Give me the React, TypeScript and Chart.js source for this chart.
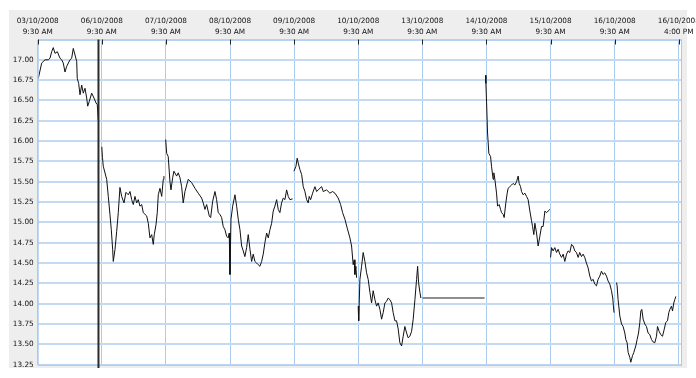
import React, { useEffect, useRef } from 'react';
import { Chart, registerables } from 'chart.js';

Chart.register(...registerables);

const W = 696;
const H = 378;

// x axis: trading-day units (0 = 03/10/2008 9:30 AM)
const tickDays = [0, 1, 2, 3, 4, 5, 6, 7, 8, 9, 10];
const dateLabels = ['03/10/2008', '06/10/2008', '07/10/2008', '08/10/2008', '09/10/2008', '10/10/2008', '13/10/2008', '14/10/2008', '15/10/2008', '16/10/2008', '16/10/2008'];
const timeLabels = ['9:30 AM', '9:30 AM', '9:30 AM', '9:30 AM', '9:30 AM', '9:30 AM', '9:30 AM', '9:30 AM', '9:30 AM', '9:30 AM', '4:00 PM'];
const priceTicks = [13.25, 13.5, 13.75, 14.0, 14.25, 14.5, 14.75, 15.0, 15.25, 15.5, 15.75, 16.0, 16.25, 16.5, 16.75, 17.0, 17.25];

const oct03Times = [0.009, 0.062, 0.114, 0.165, 0.192, 0.218, 0.243, 0.270, 0.306, 0.348, 0.374, 0.399, 0.426, 0.452, 0.504, 0.530, 0.555, 0.582, 0.608, 0.617, 0.639, 0.660, 0.686, 0.711, 0.738, 0.764, 0.780, 0.805, 0.842, 0.878, 0.909, 0.929, 0.945];
const oct03Prices = [16.77, 16.96, 17.0, 17.0, 17.02, 17.10, 17.15, 17.08, 17.10, 17.02, 17.0, 16.96, 16.85, 16.92, 17.0, 17.02, 17.14, 17.06, 16.98, 16.77, 16.71, 16.57, 16.69, 16.59, 16.65, 16.53, 16.43, 16.49, 16.59, 16.53, 16.47, 16.45, 16.26];

const oct06Times = [1.000, 1.010, 1.023, 1.076, 1.101, 1.127, 1.148, 1.169, 1.179, 1.206, 1.232, 1.257, 1.283, 1.310, 1.346, 1.377, 1.413, 1.440, 1.466, 1.491, 1.517, 1.544, 1.569, 1.595, 1.622, 1.647, 1.700, 1.725, 1.751, 1.778, 1.803, 1.818, 1.845, 1.865, 1.881, 1.907, 1.934, 1.959, 1.969];
const oct06Prices = [15.93, 15.80, 15.69, 15.53, 15.32, 15.10, 14.91, 14.67, 14.52, 14.67, 14.89, 15.12, 15.43, 15.32, 15.24, 15.37, 15.34, 15.38, 15.28, 15.22, 15.32, 15.24, 15.28, 15.20, 15.22, 15.12, 15.08, 14.99, 14.81, 14.85, 14.73, 14.85, 14.97, 15.12, 15.34, 15.42, 15.32, 15.53, 15.57];

const oct07Times = [1.996, 2.012, 2.036, 2.063, 2.079, 2.105, 2.125, 2.167, 2.192, 2.219, 2.245, 2.270, 2.297, 2.348, 2.401, 2.453, 2.504, 2.557, 2.582, 2.609, 2.635, 2.676, 2.698, 2.729, 2.765, 2.791, 2.816, 2.842, 2.869, 2.894, 2.921, 2.947, 2.972, 2.988,
  2.999, 3.015, 3.041, 3.077, 3.103, 3.128, 3.155, 3.181, 3.206, 3.232, 3.259, 3.284, 3.311, 3.337, 3.362, 3.388, 3.415, 3.440, 3.466, 3.493, 3.518, 3.544, 3.571, 3.596, 3.623, 3.649, 3.674, 3.700, 3.727, 3.752, 3.778, 3.804, 3.830, 3.856, 3.883, 3.908, 3.934, 3.976];
const oct07Prices = [16.02, 15.85, 15.81, 15.50, 15.40, 15.55, 15.63, 15.57, 15.61, 15.55, 15.44, 15.24, 15.38, 15.53, 15.49, 15.42, 15.36, 15.30, 15.24, 15.16, 15.22, 15.08, 15.06, 15.26, 15.38, 15.28, 15.12, 15.10, 15.06, 14.95, 14.91, 14.83, 14.81, 14.87,
  14.36, 15.04, 15.20, 15.34, 15.20, 15.04, 14.91, 14.71, 14.65, 14.58, 14.69, 14.85, 14.67, 14.52, 14.61, 14.52, 14.50, 14.48, 14.46, 14.52, 14.61, 14.75, 14.87, 14.81, 14.91, 14.99, 15.14, 15.20, 15.28, 15.16, 15.12, 15.24, 15.30, 15.28, 15.40, 15.32, 15.28, 15.29];

const oct09Times = [3.997, 4.028, 4.048, 4.064, 4.090, 4.117, 4.142, 4.168, 4.195, 4.220, 4.235, 4.257, 4.288, 4.324, 4.351, 4.375, 4.429, 4.454, 4.506, 4.558, 4.600, 4.636, 4.687, 4.725, 4.756, 4.792, 4.828, 4.870, 4.896, 4.921, 4.937, 4.948, 4.963, 4.974];
const oct09Prices = [15.63, 15.69, 15.79, 15.73, 15.65, 15.59, 15.44, 15.38, 15.28, 15.24, 15.32, 15.28, 15.36, 15.44, 15.38, 15.40, 15.44, 15.38, 15.40, 15.36, 15.38, 15.36, 15.30, 15.22, 15.12, 15.04, 14.93, 14.81, 14.71, 14.48, 14.54, 14.36, 14.46, 14.32];

const oct10Times = [4.999, 5.007, 5.026, 5.052, 5.077, 5.104, 5.130, 5.155, 5.182, 5.208, 5.233, 5.260, 5.286, 5.311, 5.338, 5.364, 5.389, 5.416, 5.442, 5.467, 5.494, 5.520, 5.545, 5.572, 5.598, 5.623, 5.649, 5.676, 5.701, 5.727, 5.754, 5.779, 5.805, 5.832, 5.857, 5.884, 5.910, 5.926, 5.941, 5.962, 5.977];
const oct10Prices = [13.97, 13.79, 14.30, 14.46, 14.63, 14.52, 14.38, 14.30, 14.14, 14.01, 14.16, 14.05, 13.97, 14.01, 13.93, 13.81, 13.89, 14.01, 14.03, 14.07, 14.05, 14.01, 13.89, 13.79, 13.79, 13.69, 13.52, 13.48, 13.60, 13.72, 13.64, 13.58, 13.60, 13.66, 13.81, 14.05, 14.30, 14.46, 14.26, 14.14, 14.07];

const oct13Times = [6.0, 6.97];
const oct13Prices = [14.07, 14.07];

const oct14Times = [6.986, 6.991, 7.002, 7.017, 7.037, 7.064, 7.079, 7.104, 7.115, 7.131, 7.157, 7.173, 7.198, 7.220, 7.235, 7.260, 7.276, 7.302, 7.323, 7.338, 7.365, 7.391, 7.416, 7.443, 7.469, 7.494, 7.510, 7.532, 7.547, 7.572, 7.599, 7.625, 7.650, 7.677, 7.703, 7.719, 7.739, 7.755, 7.781, 7.806, 7.833, 7.859, 7.884, 7.911, 7.937, 7.962, 7.989];
const oct14Prices = [16.81, 16.71, 16.47, 16.10, 15.85, 15.81, 15.69, 15.53, 15.61, 15.53, 15.36, 15.20, 15.22, 15.16, 15.12, 15.10, 15.06, 15.24, 15.36, 15.42, 15.44, 15.46, 15.48, 15.46, 15.50, 15.57, 15.48, 15.44, 15.38, 15.34, 15.36, 15.32, 15.28, 15.14, 15.02, 14.95, 14.85, 14.99, 14.87, 14.71, 14.83, 14.95, 14.95, 15.14, 15.12, 15.14, 15.16];

const oct15Times = [8.0, 8.015, 8.040, 8.066, 8.093, 8.118, 8.144, 8.171, 8.196, 8.222, 8.249, 8.274, 8.300, 8.327, 8.352, 8.378, 8.404, 8.430, 8.455, 8.482, 8.507, 8.533, 8.559, 8.586, 8.612, 8.638, 8.664, 8.690, 8.716, 8.741, 8.768, 8.794, 8.819, 8.845, 8.872, 8.897, 8.924, 8.95, 8.97, 8.98, 8.99];
const oct15Prices = [14.57, 14.69, 14.65, 14.69, 14.63, 14.67, 14.61, 14.57, 14.61, 14.52, 14.61, 14.65, 14.63, 14.73, 14.71, 14.65, 14.63, 14.57, 14.63, 14.58, 14.61, 14.57, 14.50, 14.44, 14.34, 14.28, 14.30, 14.24, 14.22, 14.30, 14.34, 14.40, 14.36, 14.38, 14.34, 14.28, 14.24, 14.16, 14.07, 13.97, 13.89];

const oct16Times = [9.029, 9.038, 9.053, 9.080, 9.107, 9.131, 9.158, 9.174, 9.194, 9.210, 9.236, 9.251, 9.278, 9.298, 9.329, 9.350, 9.372, 9.392, 9.408, 9.423, 9.444, 9.470, 9.496, 9.521, 9.548, 9.574, 9.599, 9.626, 9.652, 9.668, 9.693, 9.719, 9.746, 9.771, 9.797, 9.824, 9.844, 9.860, 9.886, 9.902, 9.922, 9.938, 9.953];
const oct16Prices = [14.26, 14.22, 14.05, 13.85, 13.75, 13.72, 13.64, 13.56, 13.52, 13.40, 13.34, 13.28, 13.36, 13.40, 13.48, 13.56, 13.64, 13.77, 13.91, 13.93, 13.81, 13.75, 13.72, 13.64, 13.62, 13.56, 13.53, 13.52, 13.60, 13.72, 13.66, 13.62, 13.60, 13.68, 13.77, 13.79, 13.89, 13.93, 13.97, 13.91, 14.01, 14.05, 14.09];

const cursorDay = 0.948;

const sessionTimes = [oct03Times, oct06Times, oct07Times, oct09Times, oct10Times, oct14Times, oct15Times, oct16Times];
const sessionPrices = [oct03Prices, oct06Prices, oct07Prices, oct09Prices, oct10Prices, oct14Prices, oct15Prices, oct16Prices];

const FONT = { family: 'DejaVu Sans', size: 7.3 };

const decor = {
  id: 'decor',
  beforeDraw(chart: any) {
    const ctx = chart.ctx;
    const a = chart.chartArea;
    ctx.save();
    ctx.fillStyle = '#ffffff';
    ctx.fillRect(0, 0, W, H);
    ctx.fillStyle = '#eeeeee';
    ctx.fillRect(9, 10, 678, 358);
    ctx.fillStyle = '#ffffff';
    ctx.fillRect(a.left, a.top, a.right - a.left, a.bottom - a.top);
    ctx.restore();
  },
  afterDatasetsDraw(chart: any) {
    const ctx = chart.ctx;
    const a = chart.chartArea;
    const xs = chart.scales.x;
    ctx.save();
    ctx.strokeStyle = '#a9c9ee';
    ctx.lineWidth = 1;
    ctx.strokeRect(a.left + 0.5, a.top + 0.5, a.right - a.left - 1, a.bottom - a.top);
    ctx.strokeStyle = '#222222';
    ctx.lineWidth = 1;
    tickDays.forEach((d) => {
      const px = Math.round(xs.getPixelForValue(d)) + 0.5;
      ctx.beginPath();
      ctx.moveTo(px, a.top);
      ctx.lineTo(px, a.top + 5);
      ctx.stroke();
    });
    const cx = xs.getPixelForValue(cursorDay);
    ctx.strokeStyle = '#2a2a2a';
    ctx.lineWidth = 2;
    ctx.beginPath();
    ctx.moveTo(cx, a.top);
    ctx.lineTo(cx, H);
    ctx.stroke();
    ctx.restore();
  },
  afterDraw(chart: any) {
    const ctx = chart.ctx;
    ctx.save();
    ctx.fillStyle = '#ffffff';
    ctx.fillRect(0, 368, W, H - 368);
    ctx.restore();
  },
};

export default function App() {
  const ref = useRef<HTMLCanvasElement | null>(null);
  useEffect(() => {
    if (!ref.current) return;
    const datasets: any[] = sessionTimes.map((times, k) => ({
      data: times.map((t, i) => ({ x: t, y: sessionPrices[k][i] })),
      borderColor: '#111111',
      borderWidth: 1,
      pointRadius: 0,
      tension: 0,
      fill: false,
    }));
    datasets.push({
      data: oct13Times.map((t, i) => ({ x: t, y: oct13Prices[i] })),
      borderColor: '#8e8e8e',
      borderWidth: 2,
      pointRadius: 0,
      tension: 0,
      fill: false,
    });
    const chart = new Chart(ref.current, {
      type: 'line',
      data: { datasets },
      plugins: [decor],
      options: {
        animation: false,
        responsive: false,
        devicePixelRatio: 1,
        layout: { padding: { left: 0, right: 14, top: 0, bottom: 13.3 } },
        plugins: { legend: { display: false }, tooltip: { enabled: false } },
        scales: {
          x: {
            type: 'linear',
            position: 'top',
            min: 0,
            max: 10.05,
            afterBuildTicks: (s: any) => {
              s.ticks = tickDays.map((v) => ({ value: v }));
            },
            afterFit: (s: any) => {
              s.height = 39.5;
              s.paddingLeft = 0;
              s.paddingRight = 0;
            },
            grid: { color: '#abcbee', lineWidth: 1, drawTicks: false },
            border: { display: false },
            ticks: {
              autoSkip: false,
              maxRotation: 0,
              padding: 2.2,
              color: '#111111',
              font: { ...FONT, lineHeight: 1.45 },
              callback: (_v: any, i: number) => [dateLabels[i], timeLabels[i]],
            },
          },
          y: {
            type: 'linear',
            min: 13.25,
            max: 17.25,
            afterBuildTicks: (s: any) => {
              s.ticks = priceTicks.map((v) => ({ value: v }));
            },
            afterFit: (s: any) => {
              s.width = 37.7;
              s.paddingTop = 0;
              s.paddingBottom = 0;
            },
            grid: { color: '#c4daf4', lineWidth: 2, drawTicks: false },
            border: { display: false },
            ticks: {
              padding: 4,
              color: '#111111',
              font: FONT,
              callback: (v: any) => (v >= 17.25 ? '' : Number(v).toFixed(2)),
            },
          },
        },
      },
    } as any);
    return () => chart.destroy();
  }, []);
  return (
    <div style={{ position: 'absolute', left: 0, top: 0, width: W, height: H }}>
      <canvas ref={ref} width={W} height={H} style={{ display: 'block', width: W, height: H }} />
    </div>
  );
}
